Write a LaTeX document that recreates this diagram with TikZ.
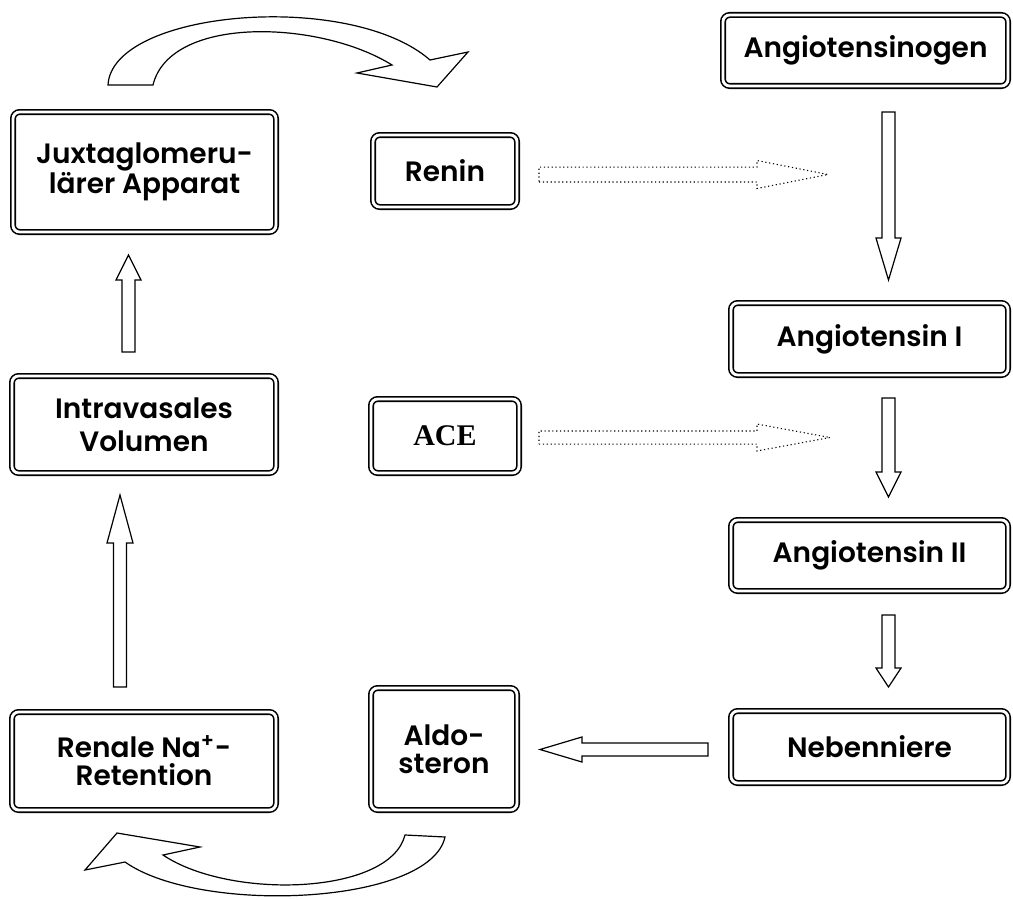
\documentclass[tikz,border=0pt]{standalone}
\usepackage{fontspec}
\newfontfamily\gothic{Poppins}[BoldFont={Poppins SemiBold}]
\newfontfamily\timesb{Liberation Serif}
\usetikzlibrary{calc}

\begin{document}
\begin{tikzpicture}[x=0.75pt,y=-0.75pt,
    box/.style={draw, double, line width=1.2pt, double distance=2.1pt,
        rounded corners=5pt, fill=white, align=center, inner sep=0pt,
        font=\gothic\bfseries\fontsize{21}{21}\selectfont},
    fat/.style n args={3}{line width=0.9pt, to path={
        let \p1=(\tikztostart), \p2=(\tikztotarget),
        \n1={atan2(\y2-\y1,\x2-\x1)}, \n2={veclen(\x2-\x1,\y2-\y1)} in
        {[shift={(\p1)}, rotate=\n1] (0pt,-#1) -- ({\n2*1pt-#3},-#1)
        -- ({\n2*1pt-#3},-#2) -- ({\n2*1pt},0pt) -- ({\n2*1pt-#3},#2)
        -- ({\n2*1pt-#3},#1) -- (0pt,#1) -- cycle}}}]
    \useasboundingbox (0,0) rectangle (1013,899);
    % boxes
    \node[box, minimum width=197.25pt, minimum height=90pt] (juxta) at (144.5,172) {Juxtaglomeru-\\lärer Apparat};
    \node[box, minimum width=108pt, minimum height=54pt] (renin) at (445,171) {Renin};
    \node[box, minimum width=213.75pt, minimum height=53.25pt] (angen) at (865.5,50.5) {Angiotensinogen};
    \node[box, minimum width=207.75pt, minimum height=54pt] (angI) at (869.5,339) {Angiotensin I};
    \node[box, minimum width=207.75pt, minimum height=53.25pt] (angII) at (869.5,555.5) {Angiotensin II};
    \node[box, minimum width=207.75pt, minimum height=54pt] (neben) at (869.5,747) {Nebenniere};
    \node[box, minimum width=198pt, minimum height=72.75pt] (intra) at (144,424.5) {Intravasales\\[4pt]Volumen};
    \node[box, minimum width=111pt, minimum height=55.5pt, font=\timesb\bfseries\fontsize{22.5}{24}\selectfont] (ace) at (445,436) {ACE};
    \node[box, minimum width=198pt, minimum height=73.5pt] (renale) at (144,761) {Renale Na\textsuperscript{+}-\\Retention};
    \node[box, minimum width=109.5pt, minimum height=91.5pt] (aldo) at (444,749) {Aldo-\\steron};
    % arrow ends
    \coordinate (a1s) at (888.5,112);  \coordinate (a1e) at (888.5,280);
    \coordinate (a2s) at (888.5,398);  \coordinate (a2e) at (888.5,497);
    \coordinate (a3s) at (888.5,615);  \coordinate (a3e) at (888.5,687);
    \coordinate (a4s) at (708,749.5);  \coordinate (a4e) at (540,749.5);
    \coordinate (a5s) at (128.5,352);  \coordinate (a5e) at (128.5,255);
    \coordinate (a6s) at (120,687);    \coordinate (a6e) at (120,495);
    \coordinate (d1s) at (539,174.5);  \coordinate (d1e) at (828,174.5);
    \coordinate (d2s) at (539,437.5);  \coordinate (d2e) at (830,437.5);
    \draw[fat={4.9pt}{9.4pt}{31.5pt}] (a1s) to (a1e);
    \draw[fat={4.9pt}{9.4pt}{18.75pt}] (a2s) to (a2e);
    \draw[fat={4.9pt}{9.4pt}{14.25pt}] (a3s) to (a3e);
    \draw[fat={4.9pt}{9.4pt}{31.5pt}] (a4s) to (a4e);
    \draw[fat={4.9pt}{9.4pt}{18.75pt}] (a5s) to (a5e);
    \draw[fat={4.9pt}{9.75pt}{36pt}] (a6s) to (a6e);
    \draw[fat={5.6pt}{10.5pt}{53.25pt}, dotted, line width=0.8pt] (d1s) to (d1e);
    \draw[fat={4.9pt}{10.1pt}{54.75pt}, dotted, line width=0.8pt] (d2s) to (d2e);
    % curved arrows
    \draw[line width=0.9pt, fill=white] (108,85) .. controls (112,10) and (350,-10) .. (430,60)
        -- (468,52) -- (437,87) -- (357,73) -- (392,65)
        .. controls (320,20) and (170,15) .. (153,85) -- cycle;
    \draw[line width=0.9pt, fill=white] (445,837) .. controls (430,905) and (200,915) .. (125,862)
        -- (85,870) -- (117,833) -- (200,847) -- (163,855)
        .. controls (230,900) and (390,895) .. (405,835) -- cycle;
\end{tikzpicture}
\end{document}
